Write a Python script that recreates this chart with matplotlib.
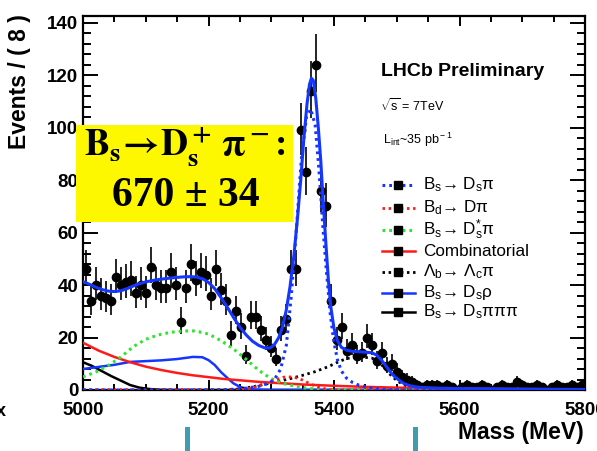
import numpy as np
import matplotlib
matplotlib.use('Agg')
import matplotlib.pyplot as plt
from matplotlib.patches import Rectangle
from matplotlib.lines import Line2D

plt.rcParams['font.family'] = ['Liberation Sans', 'DejaVu Sans']
plt.rcParams['mathtext.fontset'] = 'custom'
plt.rcParams['mathtext.rm'] = 'Liberation Sans'
plt.rcParams['mathtext.it'] = 'Liberation Sans:italic'
plt.rcParams['mathtext.bf'] = 'Liberation Sans:bold'

# ---------------- data ----------------
bin_width = 8
bin_centers = np.arange(5004, 5800, bin_width)

counts = [46, 34, 40, 36, 35, 34, 43, 40, 41, 42,
          37, 40, 37, 47, 40, 39, 39, 45, 40, 26,
          39, 48, 42, 45, 44, 36, 46, 38, 34, 21,
          30, 24, 13, 28, 28, 23, 19, 16, 12, 23,
          27, 46, 46, 99, 83, 114, 124, 76, 70, 34,
          19, 24, 15, 17, 13, 14, 20, 17, 11, 14,
          9, 10, 7, 5, 4, 3, 2, 1, 2, 2,
          2, 1, 2, 1, 0, 1, 2, 1, 1, 2,
          1, 0, 1, 2, 1, 1, 3, 2, 1, 1,
          2, 1, 0, 1, 2, 1, 1, 2, 1, 2]

# total fit (solid blue)
total_m = [5000, 5010, 5020, 5030, 5040, 5050, 5060, 5070, 5080, 5090, 5100, 5115, 5130, 5145,
           5160, 5172, 5182, 5192, 5200, 5210, 5220, 5230, 5240, 5250, 5260, 5270, 5280, 5290,
           5298, 5305, 5312, 5318, 5324, 5330, 5336, 5342, 5347, 5352, 5357, 5361, 5364, 5367,
           5371, 5375, 5379, 5383, 5387, 5391, 5395, 5400, 5406, 5412, 5420, 5430, 5445, 5460,
           5468, 5476, 5484, 5490, 5497, 5505, 5512, 5520, 5530, 5540, 5560, 5600, 5700, 5800]
total_v = [41.3, 40.3, 39.2, 38.3, 37.7, 37.5, 37.8, 38.6, 39.6, 40.5, 41.2, 41.9, 42.4, 42.8,
           43.1, 43.2, 43.0, 42.2, 41.0, 38.6, 35.2, 31.5, 27.6, 24.0, 21.0, 18.6, 17.0, 16.0,
           16.0, 17.3, 20.0, 24.0, 30.5, 39.5, 51.0, 66.0, 80.0, 96.0, 109.0, 116.5, 118.8, 118.0,
           111.0, 100.0, 87.0, 71.0, 56.0, 42.0, 31.5, 23.5, 18.5, 16.2, 15.2, 14.7, 14.5, 14.2,
           13.3, 11.3, 8.8, 6.8, 5.0, 3.5, 2.4, 1.7, 1.2, 0.95, 0.75, 0.55, 0.35, 0.2]

# Bs -> Ds pi signal (blue dotted)
sig_m = [5000, 5220, 5240, 5260, 5280, 5295, 5305, 5315, 5324, 5332, 5340, 5348, 5356, 5363,
         5370, 5376, 5382, 5388, 5394, 5400, 5406, 5412, 5420, 5430, 5440, 5455, 5470, 5490,
         5510, 5800]
sig_v = [0, 0, 0.3, 0.7, 1.4, 2.5, 4.0, 8.0, 17.0, 36.0, 61.0, 88.0, 104.0, 107.0,
         101.0, 84.0, 63.0, 45.0, 29.0, 18.0, 11.0, 7.2, 4.5, 2.8, 1.8, 0.9, 0.4, 0.1,
         0, 0]

# Bd -> D pi (red dotted)
bd_m = [5000, 5250, 5270, 5290, 5305, 5320, 5335, 5350, 5365, 5380, 5395, 5410, 5800]
bd_v = [0, 0, 0.8, 2.4, 3.8, 4.9, 5.0, 3.8, 2.0, 0.7, 0.1, 0, 0]

# Bs -> Ds* pi (green dotted)
dsst_m = [5000, 5020, 5040, 5060, 5080, 5100, 5120, 5140, 5160, 5180, 5200, 5220, 5240,
          5260, 5280, 5300, 5320, 5340, 5360, 5380, 5400, 5800]
dsst_v = [5.0, 6.8, 9.3, 12.5, 16.5, 19.3, 21.0, 22.0, 22.5, 22.5, 21.3, 18.8, 15.6,
          11.7, 7.5, 4.3, 2.4, 1.3, 0.6, 0.2, 0, 0]

# combinatorial (red solid)
comb_m = [5000, 5025, 5050, 5075, 5100, 5125, 5150, 5175, 5200, 5225, 5250, 5275, 5300,
          5350, 5400, 5450, 5500, 5600, 5700, 5800]
comb_v = [18.0, 15.0, 12.6, 10.6, 8.9, 7.6, 6.5, 5.6, 4.9, 4.2, 3.7, 3.2, 2.8,
          2.1, 1.6, 1.2, 0.9, 0.55, 0.35, 0.2]

# Lambda_b -> Lambda_c pi (black dotted)
lb_m = [5000, 5230, 5250, 5270, 5290, 5310, 5330, 5350, 5370, 5390, 5405, 5420, 5440, 5460,
        5470, 5480, 5490, 5500, 5510, 5520, 5530, 5545, 5560, 5800]
lb_v = [0, 0, 0.4, 1.2, 2.2, 3.2, 4.3, 5.6, 7.0, 8.8, 10.5, 12.0, 12.6, 12.2,
        11.0, 8.6, 5.8, 3.6, 2.1, 1.1, 0.5, 0.1, 0, 0]

# Bs -> Ds rho (blue solid)
rho_m = [5000, 5025, 5050, 5075, 5100, 5125, 5150, 5175, 5190, 5200, 5210, 5220, 5230,
         5240, 5250, 5260, 5275, 5300, 5800]
rho_v = [8.0, 8.8, 9.6, 10.7, 11.0, 11.3, 11.8, 12.6, 12.5, 11.4, 9.5, 6.8, 4.6,
         2.5, 1.2, 0.5, 0.2, 0, 0]

# Bs -> Ds pi pi pi (black solid)
p3_m = [5000, 5015, 5030, 5045, 5060, 5075, 5090, 5105, 5120, 5140, 5800]
p3_v = [10.6, 9.1, 7.2, 5.3, 3.6, 1.9, 0.9, 0.4, 0.1, 0, 0]

legend_labels = ['B$_{\\rm s}$\u2192 D$_{\\rm s}$\u03c0',
                 'B$_{\\rm d}$\u2192 D\u03c0',
                 'B$_{\\rm s}$\u2192 D$_{\\rm s}^{*}$\u03c0',
                 'Combinatorial',
                 '\u039b$_{\\rm b}$\u2192 \u039b$_{\\rm c}$\u03c0',
                 'B$_{\\rm s}$\u2192 D$_{\\rm s}$\u03c1',
                 'B$_{\\rm s}$\u2192 D$_{\\rm s}$\u03c0\u03c0\u03c0']

# ---------------- figure ----------------
W, H = 597, 451
fig = plt.figure(figsize=(W / 100, H / 100), dpi=100)


def fx(px):
    return px / W


def fy(py):
    return 1 - py / H


ax = fig.add_axes([fx(83), fy(390), fx(585) - fx(83), fy(16) - fy(390)])
ax.set_xlim(5000, 5800)
ax.set_ylim(0, 142.5)

BLUE = '#1536ff'
RED = '#ff1a1a'
GREEN = '#2fe52f'
BLACK = '#000000'

cnt = np.array(counts, dtype=float)
lo = np.sqrt(cnt + 0.25) - 0.5
hi = np.sqrt(cnt + 0.25) + 0.5
ax.errorbar(bin_centers, cnt, yerr=[lo, hi], xerr=bin_width / 2, fmt='o', color='black',
            ms=6, elinewidth=1.2, capsize=0, zorder=3)

dot = (0, (0.9, 1.3))
ax.plot(p3_m, p3_v, color=BLACK, lw=1.8, zorder=4)
ax.plot(rho_m, rho_v, color=BLUE, lw=1.8, zorder=4)
ax.plot(lb_m, lb_v, color=BLACK, lw=2.0, ls=dot, zorder=4)
ax.plot(comb_m, comb_v, color=RED, lw=1.8, zorder=4)
ax.plot(dsst_m, dsst_v, color=GREEN, lw=2.2, ls=dot, zorder=4)
ax.plot(bd_m, bd_v, color=RED, lw=2.0, ls=dot, zorder=4)
ax.plot(sig_m, sig_v, color=BLUE, lw=2.2, ls=dot, zorder=4)
ax.plot(total_m, total_v, color=BLUE, lw=2.2, zorder=5)

# ticks
ax.set_xticks([5000, 5200, 5400, 5600, 5800])
ax.set_xticks(np.arange(5000, 5801, 50), minor=True)
ax.set_yticks(np.arange(0, 141, 20))
ax.set_yticks(np.arange(0, 141, 4), minor=True)
ax.tick_params(which='both', direction='in', top=True, right=True, width=1.4)
ax.tick_params(axis='x', which='major', length=7.5, pad=8.5, labelsize=13.5)
ax.tick_params(axis='x', which='minor', length=4)
ax.tick_params(axis='y', which='major', length=11, pad=3.5, labelsize=13.5)
ax.tick_params(axis='y', which='minor', length=5.8)
for lab in ax.get_xticklabels() + ax.get_yticklabels():
    lab.set_fontweight('bold')
for sp in ax.spines.values():
    sp.set_linewidth(1.6)

# axis titles
fig.text(fx(20), fy(14), 'Events / ( 8 )', rotation=90, ha='center', va='top',
         fontweight='bold', fontsize=16.5)
fig.text(fx(584), fy(433), 'Mass (MeV)', ha='right', va='center',
         fontweight='bold', fontsize=16.5)

# LHCb texts
fig.text(fx(381), fy(71), 'LHCb Preliminary', ha='left', va='center',
         fontweight='bold', fontsize=14)
fig.text(fx(380), fy(106), r'$\sqrt{\rm s}$ = 7TeV', ha='left', va='center', fontsize=9)
fig.text(fx(383), fy(140), r'L$_{\rm int}$~35 pb$^{\rm -1}$', ha='left', va='center', fontsize=9)

# legend
rows = [185, 207.5, 230, 251, 271.5, 292.5, 312]
styles = [(BLUE, dot, 2.2), (RED, dot, 2.0), (GREEN, dot, 2.2), (RED, '-', 1.8),
          (BLACK, dot, 2.0), (BLUE, '-', 1.8), (BLACK, '-', 1.8)]
for yrow, (c, ls, lw), lab in zip(rows, styles, legend_labels):
    fig.add_artist(Line2D([fx(382), fx(415)], [fy(yrow), fy(yrow)], color=c, ls=ls, lw=lw,
                          transform=fig.transFigure))
    fig.add_artist(Line2D([fx(398)], [fy(yrow)], marker='s', ms=5.5, color='black', ls='none',
                          transform=fig.transFigure))
    fig.text(fx(423), fy(yrow), lab, ha='left', va='center', fontsize=12.3)

# yellow box with yield
fig.add_artist(Rectangle((fx(76), fy(222)), fx(293) - fx(76), fy(125) - fy(222),
                         transform=fig.transFigure, fc='#fdf800', ec='none', zorder=10))
fig.text(fx(185), fy(146), r'$\mathbf{B_s\!\rightarrow\!D_s^+\,\pi^-}$:', ha='center', va='center',
         fontsize=27, fontweight='bold', family='Liberation Serif', math_fontfamily='stix',
         zorder=11)
fig.text(fx(186), fy(196), '670 \u00b1 34', ha='center', va='center',
         fontsize=30, fontweight='bold', family='Liberation Serif', zorder=11)

# slide decorations
for xl in (185, 413):
    fig.add_artist(Rectangle((fx(xl), fy(451)), fx(5), fy(427) - fy(451),
                             transform=fig.transFigure, fc='#3e9db0', ec='none'))
fig.text(fx(-4), fy(412), 'x', ha='left', va='center', fontsize=13, fontweight='bold')

fig.savefig('out.png', dpi=100)
